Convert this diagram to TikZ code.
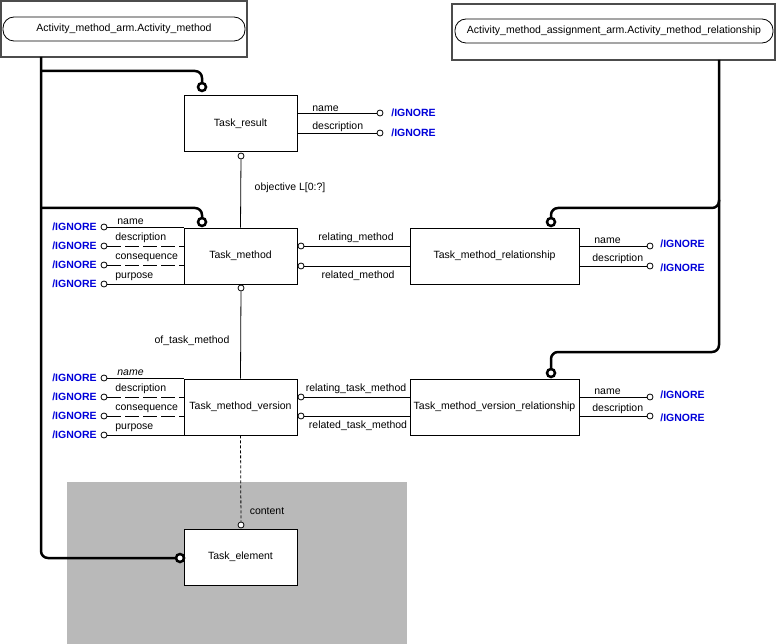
\documentclass[tikz,border=0pt]{standalone}
\usepackage{fontspec}
\setmainfont{Liberation Sans}
\usetikzlibrary{positioning,calc}
\tikzset{
  ent/.style={draw,fill=white,minimum width=113pt,minimum height=56pt,inner sep=0pt,font=\fontsize{10.5}{12}\selectfont},
  rel/.style={ent,minimum width=169pt},
  lbl/.style={font=\fontsize{10.5}{12}\selectfont,inner sep=1pt},
  ign/.style={font=\bfseries\fontsize{10.5}{12}\selectfont,text=blue!85!black,inner sep=1pt},
  oc/.style={draw,fill=white,circle,inner sep=0pt,minimum size=6pt},
  big/.style={draw,line width=2.5pt,fill=white,circle,inner sep=0pt,minimum size=8pt},
  wire/.style={line width=2.5pt,rounded corners=7pt},
  pill/.style={draw,rounded corners=11pt,minimum height=24pt,inner sep=0pt,font=\fontsize{10.5}{12}\selectfont},
  solidl/.style={solid},
  dashedl/.style={dash pattern=on 14pt off 4pt},
}
\begin{document}
\begin{tikzpicture}[x=1pt,y=-1pt,line width=0.8pt]
 \useasboundingbox (0,0) rectangle (776,644);
 \fill[gray!55] (67,482) rectangle (407,644);
 % schema boxes
 \draw[line width=1.2pt,black!70] (1,1) rectangle (247,57);
 \node[pill,minimum width=242pt] (am) at (124,29) {Activity\_method\_arm.Activity\_method};
 \draw[line width=1.2pt,black!70] (452,4) rectangle (775,60);
 \node[pill,minimum width=318pt] (amr) at (614,31) {Activity\_method\_assignment\_arm.Activity\_method\_relationship};
 % entities
 \node[ent] (tr) at (240.5,123.5) {Task\_result};
 \node[ent] (tm) at (240.5,256) {Task\_method};
 \node[rel] (tmr) at (494.5,256) {Task\_method\_relationship};
 \node[ent] (tmv) at (240.5,407) {Task\_method\_version};
 \node[rel] (tmvr) at (494.5,407) {Task\_method\_version\_relationship};
 \node[ent] (te) at (240.5,557) {Task\_element};
 % thick wires
 \coordinate (a0) at (41,57);
 \coordinate (b0) at (719,60);
 \draw[wire] (a0) -- (41,558) -- (176,558);
 \draw[wire] (41,71) -- (202,71) -- (202,83);
 \draw[wire] (41,208) -- (202,208) -- (202,218);
 \draw[wire] (b0) -- (719,208) -- (551,208) -- (551,218);
 \draw[wire] (719,200) -- (719,352) -- (551,352) -- (551,369);
 \node[big] (c1) at (202,87) {};
 \node[big] (c2) at (202,222) {};
 \node[big] (c3) at (180,558) {};
 \node[big] (c4) at (551,222) {};
 \node[big] (c5) at (551,373) {};
 % Task_result attributes
 \foreach \y/\t [count=\i] in {113/name,133/description}{
   \node[oc] (tro\i) at (380,\y) {};
   \draw (tr.east |- tro\i) -- (tro\i);
   \node[lbl,anchor=south west] at (311,\y) {\t};
   \node[ign,anchor=west] at (390,\y) {/IGNORE};
 }
 % relationship attributes
 \foreach \e/\ya/\yb in {tmr/246/266,tmvr/397/416}{
   \node[oc] (\e o1) at (650,\ya) {};
   \node[oc] (\e o2) at (650,\yb) {};
   \draw (\e.east |- \e o1) -- (\e o1);
   \draw (\e.east |- \e o2) -- (\e o2);
   \node[lbl,anchor=south west] at (593,\ya-1) {name};
   \node[lbl,anchor=south west] at (591,\yb-1) {description};
   \node[ign,anchor=west] at (659,\ya-2) {/IGNORE};
   \node[ign,anchor=west] at (659,\yb+2) {/IGNORE};
 }
 % left attributes
 \foreach \e/\yy in {tm/227,tmv/378}{
   \foreach \d/\t/\s [count=\i] in {0/name/solidl,19/description/dashedl,38/consequence/dashedl,57/purpose/solidl}{
     \node[oc] (\e l\i) at (104,\yy+\d) {};
     \draw[\s] (\e l\i) -- (184,\yy+\d);
     \node[ign,anchor=east] at (98,\yy+\d) {/IGNORE};
   }
   \node[lbl,anchor=south west] at (114,\yy+17) {description};
   \node[lbl,anchor=south west] at (114,\yy+36) {consequence};
   \node[lbl,anchor=south west] at (114,\yy+55) {purpose};
 }
 \node[lbl,anchor=south west] at (116,226) {name};
 \node[lbl,anchor=south west,font=\itshape\fontsize{10.5}{12}\selectfont] at (116,377) {name};
 % links between entities
 \node[oc] (o1) at (241,156) {};
 \draw (o1) -- (tm.north);
 \node[lbl] at (290,188) {objective L[0:?]};
 \node[oc] (o2) at (241,288) {};
 \draw (o2) -- (tmv.north);
 \node[lbl] at (192,341) {of\_task\_method};
 \node[oc] (o3) at (241,525) {};
 \draw[dash pattern=on 3pt off 2pt] (tmv.south) -- (o3);
 \node[lbl] at (267,511) {content};
 \foreach \a/\b/\ya/\yb/\ta/\tb in {tm/tmr/246/266/relating\_method/related\_method,tmv/tmvr/397/416/relating\_task\_method/related\_task\_method}{
   \node[oc] (\a r1) at (301,\ya) {};
   \node[oc] (\a r2) at (301,\yb) {};
   \draw (\a r1) -- (\b.west |- \a r1);
   \draw (\a r2) -- (\b.west |- \a r2);
   \node[lbl,anchor=south] at (356,\ya-2) {\ta};
   \node[lbl,anchor=north] at (358,\yb+3) {\tb};
 }
\end{tikzpicture}
\end{document}
